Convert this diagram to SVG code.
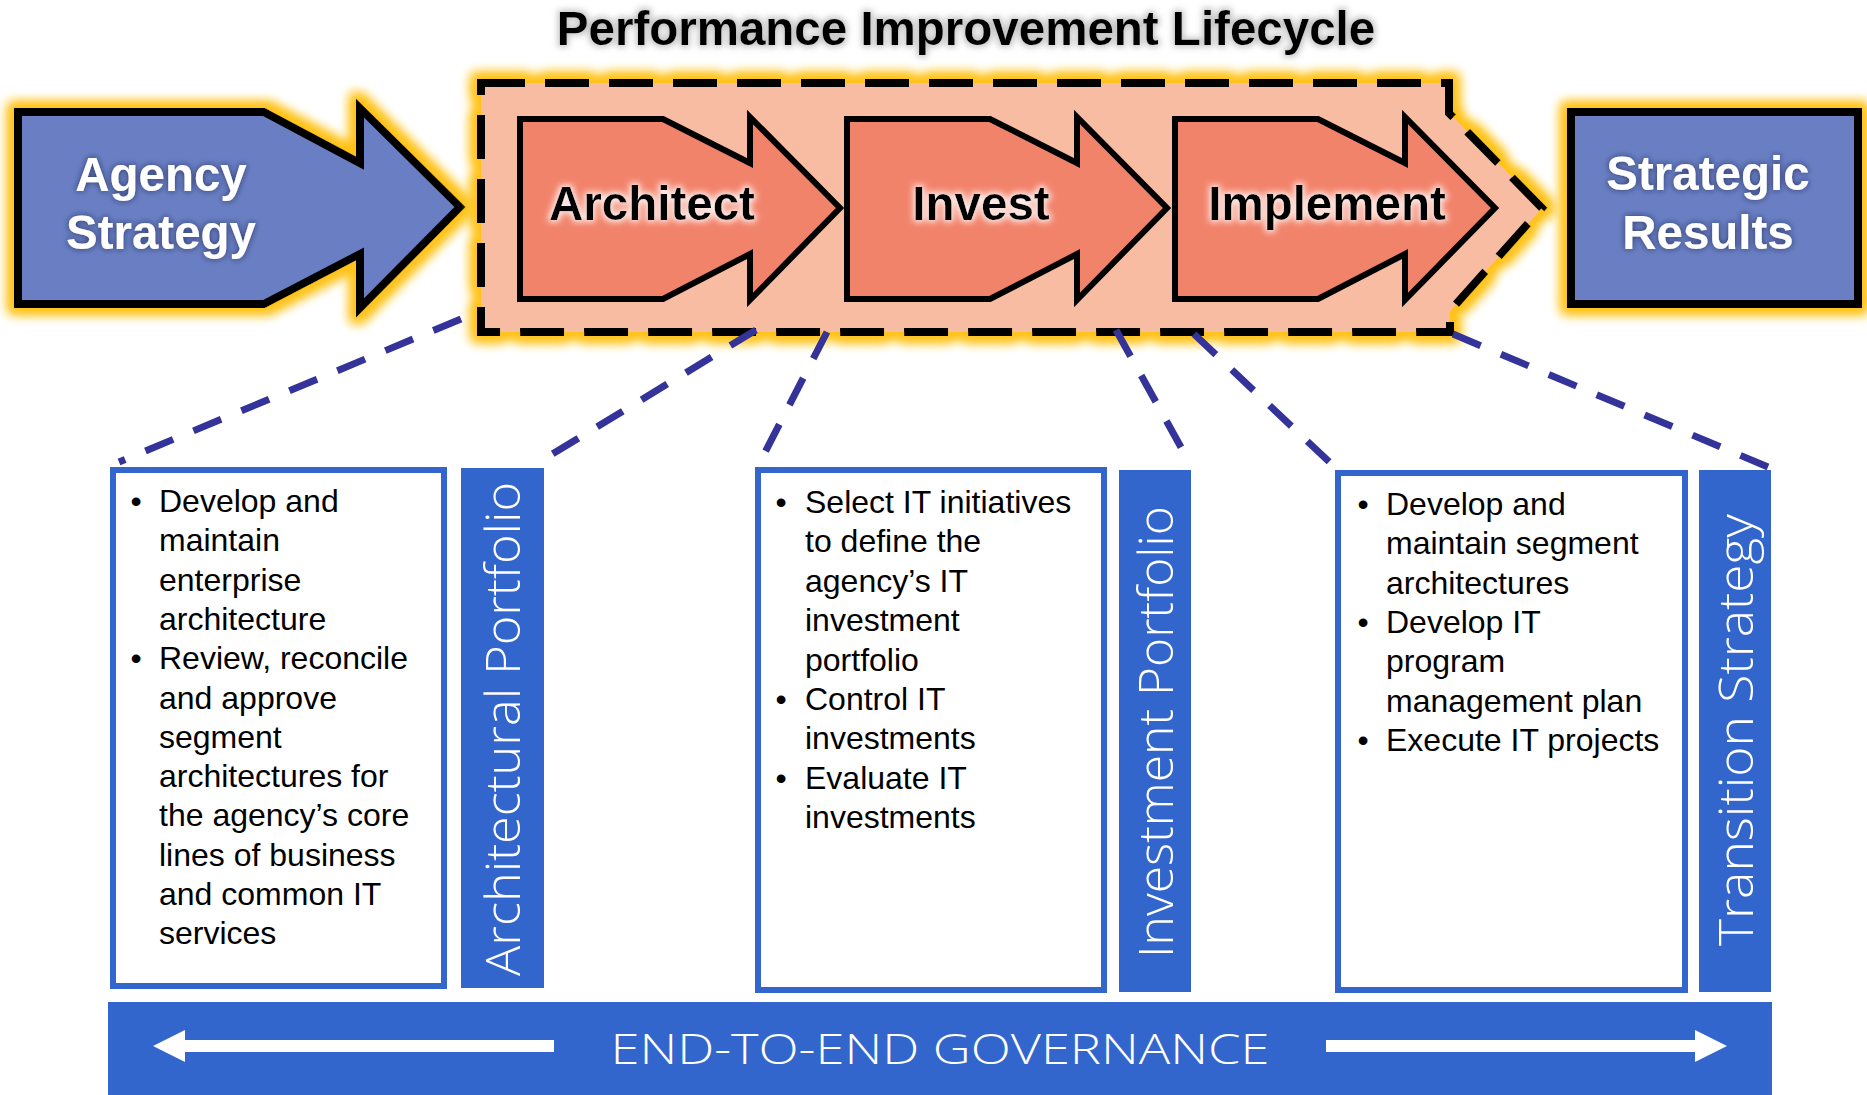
<svg xmlns="http://www.w3.org/2000/svg" width="1867" height="1095" viewBox="0 0 1867 1095">
<defs>
<style>
.hd{font-family:"Liberation Sans",Arial,sans-serif;font-weight:bold;font-size:47.5px;text-anchor:middle}
.wt{fill:#fff}
.bk{fill:#000}
.body{font-family:"Liberation Sans",Arial,sans-serif;font-size:32px;fill:#000}
.bul{text-anchor:middle}
.lbl{font-family:"Open Sans","Liberation Sans",sans-serif;font-weight:300;font-size:47px;fill:#fff;text-anchor:middle}
.box{fill:#fff;stroke:#3366CC;stroke-width:6}
.bar{fill:#3366CC}
.conn{stroke:#333399;stroke-width:7;stroke-dasharray:30 22;fill:none}
.blue{fill:#6A7FC3;stroke:#000;stroke-width:8;stroke-linejoin:miter}
.step{fill:#F2836B;stroke:#000;stroke-width:6;stroke-linejoin:miter}
</style>
<filter id="yglow" x="-10%" y="-20%" width="120%" height="140%">
<feMorphology in="SourceAlpha" operator="dilate" radius="5" result="d"/>
<feGaussianBlur in="d" stdDeviation="6" result="b"/>
<feFlood flood-color="#FFC21A"/>
<feComposite in2="b" operator="in" result="g"/>
<feMerge><feMergeNode in="g"/><feMergeNode in="g"/><feMergeNode in="SourceGraphic"/></feMerge>
</filter>
<filter id="tdark" x="-20%" y="-30%" width="140%" height="160%">
<feGaussianBlur in="SourceAlpha" stdDeviation="3" result="b"/>
<feFlood flood-color="#1a2250" flood-opacity="0.8"/>
<feComposite in2="b" operator="in" result="s"/>
<feMerge><feMergeNode in="s"/><feMergeNode in="SourceGraphic"/></feMerge>
</filter>
<filter id="tlight" x="-20%" y="-30%" width="140%" height="160%">
<feMorphology in="SourceAlpha" operator="dilate" radius="2" result="d"/>
<feGaussianBlur in="d" stdDeviation="3" result="b"/>
<feFlood flood-color="#ffffff" flood-opacity="0.85"/>
<feComposite in2="b" operator="in" result="s"/>
<feMerge><feMergeNode in="s"/><feMergeNode in="SourceGraphic"/></feMerge>
</filter>
<filter id="tgray" x="-10%" y="-40%" width="120%" height="180%">
<feMorphology in="SourceAlpha" operator="dilate" radius="2" result="d"/>
<feGaussianBlur in="d" stdDeviation="3" result="b"/>
<feFlood flood-color="#888888" flood-opacity="0.5"/>
<feComposite in2="b" operator="in" result="s"/>
<feMerge><feMergeNode in="s"/><feMergeNode in="SourceGraphic"/></feMerge>
</filter>
</defs>
<rect width="1867" height="1095" fill="#fff"/>

<g id="title">
<text class="hd bk" x="966" y="45" filter="url(#tgray)">Performance Improvement Lifecycle</text>
</g>

<g id="agency-strategy" filter="url(#yglow)">
<path class="blue" d="M18,112 L264,112 L360,163 L360,108 L460,207 L360,308 L360,254 L264,304 L18,304 Z"/>
</g>
<g filter="url(#tdark)">
<text class="hd wt" x="161" y="191">Agency</text>
<text class="hd wt" x="161" y="249">Strategy</text>
</g>

<g id="lifecycle" filter="url(#yglow)">
<path d="M481,83 L1449,83 L1449,113 L1542,208 L1450,311 L1450,332 L481,332 Z" fill="#F8BCA3" stroke="#000" stroke-width="8" stroke-dasharray="44 20"/>
</g>

<g id="architect">
<path class="step" d="M520,119 L663,119 L750,163 L750,117 L840,208 L750,300 L750,254 L663,299 L520,299 Z"/>
<text class="hd bk" x="652" y="220" filter="url(#tlight)">Architect</text>
</g>
<g id="invest">
<path class="step" d="M847,119 L990,119 L1077,163 L1077,117 L1167,208 L1077,300 L1077,254 L990,299 L847,299 Z"/>
<text class="hd bk" x="981" y="220" filter="url(#tlight)">Invest</text>
</g>
<g id="implement">
<path class="step" d="M1175,119 L1318,119 L1405,163 L1405,117 L1495,208 L1405,300 L1405,254 L1318,299 L1175,299 Z"/>
<text class="hd bk" x="1327" y="220" filter="url(#tlight)">Implement</text>
</g>

<g id="strategic-results">
<g filter="url(#yglow)">
<rect class="blue" x="1571" y="112" width="287" height="192"/>
</g>
<g filter="url(#tdark)">
<text class="hd wt" x="1708" y="190">Strategic</text>
<text class="hd wt" x="1708" y="249">Results</text>
</g>
</g>

<g id="connectors">
<line class="conn" x1="461" y1="319" x2="119" y2="462"/>
<line class="conn" x1="756" y1="330" x2="536" y2="464"/>
<line class="conn" x1="827" y1="332" x2="760" y2="462"/>
<line class="conn" x1="1116" y1="330" x2="1187" y2="458"/>
<line class="conn" x1="1194" y1="334" x2="1342" y2="474"/>
<line class="conn" x1="1453" y1="334" x2="1768" y2="467"/>
</g>

<g id="architect-tasks">
<rect class="box" x="113" y="470" width="331" height="516"/>
<text class="body">
<tspan class="bul" x="136" y="512">•</tspan><tspan x="159" y="512">Develop and</tspan>
<tspan x="159" y="551.3">maintain</tspan>
<tspan x="159" y="590.6">enterprise</tspan>
<tspan x="159" y="629.9">architecture</tspan>
<tspan class="bul" x="136" y="669.2">•</tspan><tspan x="159" y="669.2">Review, reconcile</tspan>
<tspan x="159" y="708.5">and approve</tspan>
<tspan x="159" y="747.8">segment</tspan>
<tspan x="159" y="787.1">architectures for</tspan>
<tspan x="159" y="826.4">the agency’s core</tspan>
<tspan x="159" y="865.7">lines of business</tspan>
<tspan x="159" y="905">and common IT</tspan>
<tspan x="159" y="944.3">services</tspan>
</text>
</g>
<g id="architectural-portfolio">
<rect class="bar" x="461" y="468" width="83" height="520"/>
<text class="lbl" transform="translate(520,729) rotate(-90)" x="0" y="0" textLength="494" lengthAdjust="spacingAndGlyphs">Architectural Portfolio</text>
</g>

<g id="invest-tasks">
<rect class="box" x="758" y="470" width="346" height="520"/>
<text class="body">
<tspan class="bul" x="781" y="513">•</tspan><tspan x="805" y="513">Select IT initiatives</tspan>
<tspan x="805" y="552.4">to define the</tspan>
<tspan x="805" y="591.8">agency’s IT</tspan>
<tspan x="805" y="631.2">investment</tspan>
<tspan x="805" y="670.6">portfolio</tspan>
<tspan class="bul" x="781" y="710">•</tspan><tspan x="805" y="710">Control IT</tspan>
<tspan x="805" y="749.4">investments</tspan>
<tspan class="bul" x="781" y="788.8">•</tspan><tspan x="805" y="788.8">Evaluate IT</tspan>
<tspan x="805" y="828.2">investments</tspan>
</text>
</g>
<g id="investment-portfolio">
<rect class="bar" x="1119" y="470" width="72" height="522"/>
<text class="lbl" transform="translate(1173,732) rotate(-90)" x="0" y="0" textLength="452" lengthAdjust="spacingAndGlyphs">Investment Portfolio</text>
</g>

<g id="implement-tasks">
<rect class="box" x="1338" y="473" width="347" height="517"/>
<text class="body">
<tspan class="bul" x="1363" y="515">•</tspan><tspan x="1386" y="515">Develop and</tspan>
<tspan x="1386" y="554.3">maintain segment</tspan>
<tspan x="1386" y="593.6">architectures</tspan>
<tspan class="bul" x="1363" y="632.9">•</tspan><tspan x="1386" y="632.9">Develop IT</tspan>
<tspan x="1386" y="672.2">program</tspan>
<tspan x="1386" y="711.5">management plan</tspan>
<tspan class="bul" x="1363" y="750.8">•</tspan><tspan x="1386" y="750.8">Execute IT projects</tspan>
</text>
</g>
<g id="transition-strategy">
<rect class="bar" x="1699" y="470" width="72" height="522"/>
<text class="lbl" transform="translate(1753,730) rotate(-90)" x="0" y="0" textLength="432" lengthAdjust="spacingAndGlyphs">Transition Strategy</text>
</g>

<g id="governance">
<rect class="bar" x="108" y="1002" width="1664" height="93"/>
<polygon fill="#fff" points="153,1046 185,1030 185,1040 554,1040 554,1052 185,1052 185,1062"/>
<polygon fill="#fff" points="1727,1046 1695,1030 1695,1040 1326,1040 1326,1052 1695,1052 1695,1062"/>
<text class="lbl" x="940" y="1064" style="font-size:43px" textLength="659" lengthAdjust="spacingAndGlyphs">END-TO-END GOVERNANCE</text>
</g>
</svg>
